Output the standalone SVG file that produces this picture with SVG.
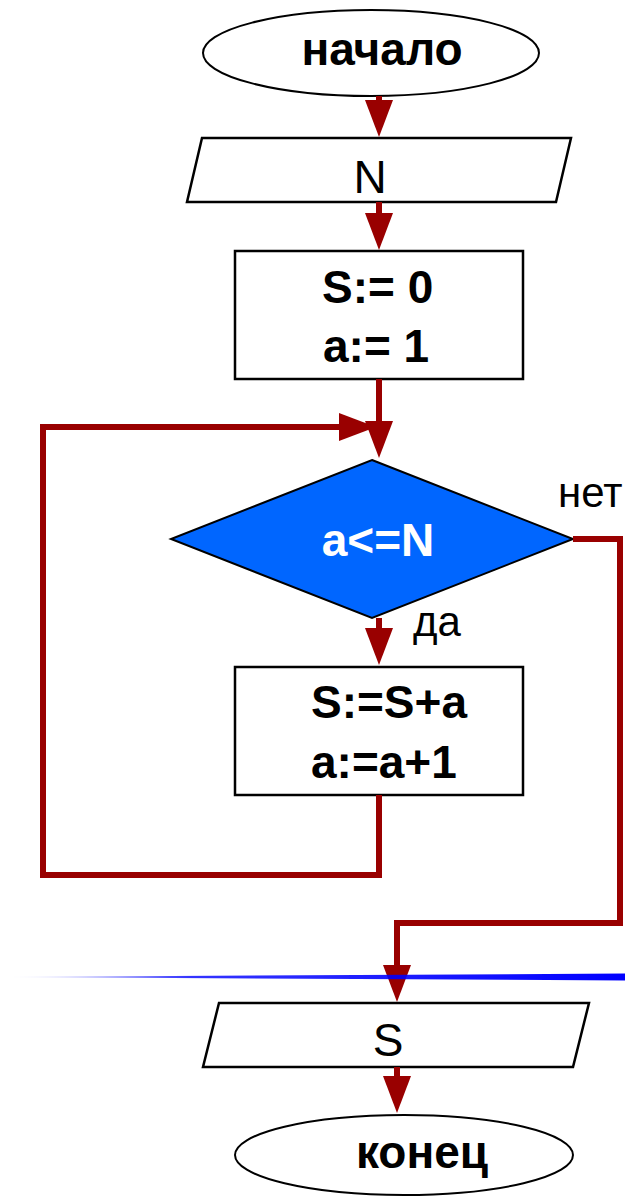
<svg xmlns="http://www.w3.org/2000/svg" width="625" height="1197" viewBox="0 0 625 1197">
<style>
.shape{fill:#ffffff;stroke:#000000;stroke-width:2.5}
.ell{fill:#ffffff;stroke:#000000;stroke-width:2}
.t{font-family:"Liberation Sans",Arial,sans-serif;font-size:46px;fill:#000000}
.b{font-weight:bold}
.lbl{font-family:"Liberation Sans",Arial,sans-serif;font-size:42px;fill:#000000}
.c{fill:none;stroke:#990000;stroke-width:6;stroke-linejoin:miter;marker-end:url(#ah)}
</style>
<defs>
<marker id="ah" viewBox="0 0 37 28" refX="0" refY="14" markerWidth="37" markerHeight="28" markerUnits="userSpaceOnUse" orient="auto">
<path d="M0,0 L37,14 L0,28 z" fill="#990000"/>
</marker>
<linearGradient id="bl" x1="5" y1="0" x2="625" y2="0" gradientUnits="userSpaceOnUse">
<stop offset="0" stop-color="#0000ff" stop-opacity="0"/>
<stop offset="0.3" stop-color="#0000ff" stop-opacity="0.8"/>
<stop offset="1" stop-color="#0000ff" stop-opacity="1"/>
</linearGradient>
</defs>
<g id="start">
<ellipse class="ell" cx="371" cy="53" rx="168" ry="43"/>
<text class="t b" x="382" y="65" text-anchor="middle">начало</text>
</g>
<g id="inputN">
<polygon class="shape" points="202,138 571,138 556,202 187,202"/>
<text class="t" x="370" y="193" text-anchor="middle">N</text>
</g>
<g id="init">
<rect class="shape" x="235" y="251" width="288" height="128" stroke-width="3"/>
<text class="t b" x="322" y="303">S:= 0</text>
<text class="t b" x="323" y="362">a:= 1</text>
</g>
<g id="cond">
<polygon points="372,460 573,539 372,618 171,539" fill="#0066ff" stroke="#000000" stroke-width="2"/>
<text class="t b" x="378" y="556" text-anchor="middle" style="fill:#ffffff">a&lt;=N</text>
</g>
<g id="body">
<rect class="shape" x="235" y="667" width="288" height="128" stroke-width="3"/>
<text class="t b" x="311" y="718">S:=S+a</text>
<text class="t b" x="311" y="778">a:=a+1</text>
</g>
<g id="outputS">
<polygon class="shape" points="219,1003 589,1003 573,1067 203,1067"/>
<text class="t" x="388" y="1056" text-anchor="middle">S</text>
</g>
<g id="end">
<ellipse class="ell" cx="404" cy="1155" rx="169" ry="40"/>
<text class="t b" x="422" y="1168" text-anchor="middle">конец</text>
</g>
<g id="connectors">
<path class="c" d="M379,96 V100"/>
<path class="c" d="M379,202 V213"/>
<path class="c" d="M379,379 V421"/>
<path class="c" d="M379,795 V875 H43 V427 H339"/>
<path class="c" d="M379,618 V628"/>
<path class="c" d="M573,539 H620 V923 H397 V965"/>
<path class="c" d="M397,1067 V1076"/>
<text class="lbl" x="558" y="507">нет</text>
<text class="lbl" x="413" y="636">да</text>
</g>
<g id="divider">
<polygon points="5,977 625,973.5 625,980.5" fill="url(#bl)"/>
</g>
</svg>
